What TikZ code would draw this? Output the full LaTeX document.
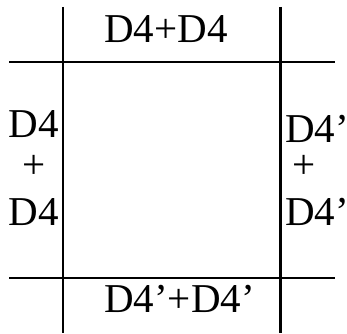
\documentclass[tikz,border=0pt]{standalone}
\usepackage{fontspec}
\setmainfont{Liberation Serif}
\tikzset{
	lbl/.style={font=\fontsize{41}{45}\selectfont, inner sep=0pt},
	rule/.style={line width=2.2pt}
}
\begin{document}
\begin{tikzpicture}[x=1pt, y=1pt]
		\useasboundingbox (0,0) rectangle (347,333);

		% ends of the four rules
		\coordinate (lt) at (63,326);
		\coordinate (lb) at (63,0);
		\coordinate (rt) at (280.5,326);
		\coordinate (rb) at (280.5,0);
		\coordinate (tl) at (9,271);
		\coordinate (tr) at (335,271);
		\coordinate (bl) at (9,55);
		\coordinate (br) at (335,55);

		\draw[rule] (lt) -- (lb);
		\draw[rule] (rt) -- (rb);
		\draw[rule] (tl) -- (tr);
		\draw[rule] (bl) -- (br);

		\node[lbl, anchor=base west] (top) at (104,291) {D4+D4};
		\node[lbl, anchor=base west] (bottom) at (104,21) {D4'+D4'};

		\node[lbl, anchor=base west] (leftA) at (8.5,196) {D4};
		\node[lbl, anchor=base] (leftP) at (34.5,155) {+};
		\node[lbl, anchor=base west] (leftB) at (8.5,108) {D4};

		\node[lbl, anchor=base west] (rightA) at (285,191) {D4'};
		\node[lbl, anchor=base] (rightP) at (304,155) {+};
		\node[lbl, anchor=base west] (rightB) at (285,108) {D4'};
	\end{tikzpicture}
\end{document}
